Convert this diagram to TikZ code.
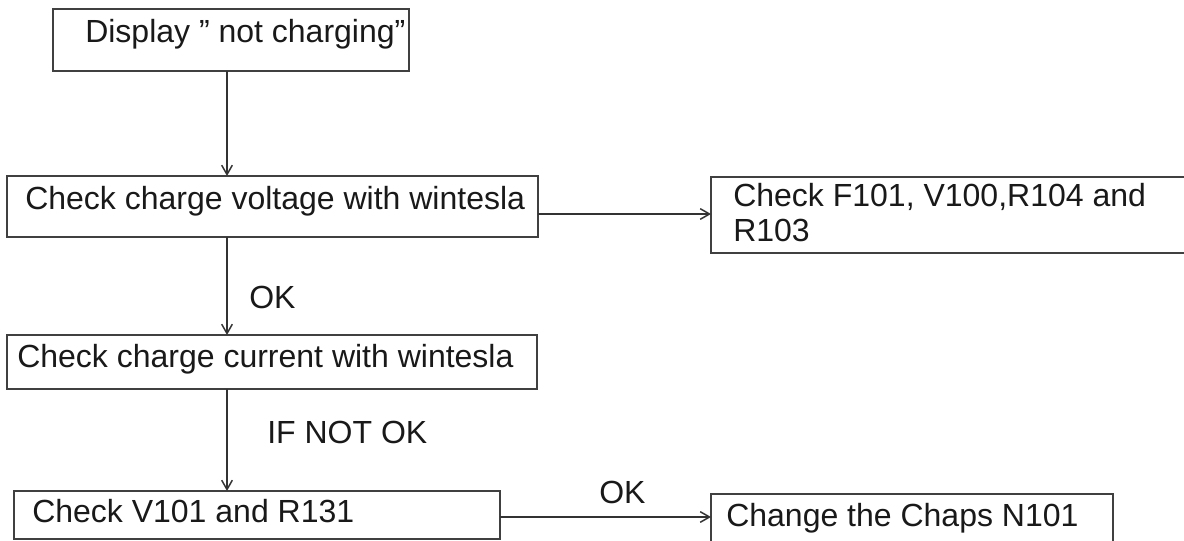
\documentclass[tikz,border=0pt]{standalone}
\usepackage{fontspec}
\setmainfont{Liberation Sans}
\usetikzlibrary{arrows.meta}

\begin{document}
\begin{tikzpicture}[x=0.75pt,y=-0.75pt,
  box/.style={draw=black!75,line width=0.9pt,inner sep=0pt,outer sep=0pt,anchor=north west},
  txt/.style={font=\fontsize{24}{26.25}\selectfont,text=black!90,inner sep=0pt,anchor=base west},
  arr/.style={draw=black!80,line width=0.9pt,-{Straight Barb[length=7pt,width=8pt,line width=1.1pt]}}]
\clip (0,0) rectangle (1184,541);
\fill[white] (0,0) rectangle (1184,541);

% boxes
\node[box,minimum width=356*0.75pt,minimum height=62*0.75pt] (disp) at (53,9) {};
\node[box,minimum width=531*0.75pt,minimum height=61*0.75pt] (volt) at (7,176) {};
\node[box,minimum width=489*0.75pt,minimum height=76*0.75pt] (fuse) at (711,177) {};
\node[box,minimum width=530*0.75pt,minimum height=54*0.75pt] (cur) at (7,335) {};
\node[box,minimum width=486*0.75pt,minimum height=48*0.75pt] (chk) at (14,491) {};
\node[box,minimum width=402*0.75pt,minimum height=66*0.75pt] (chaps) at (711,494) {};

% texts
\node[txt] (tdisp) at (85,43) {Display ” not charging”};
\node[txt] (tvolt) at (25,210) {Check charge voltage with wintesla};
\node[txt,align=left] (tfuse) at (733,242) {Check F101, V100,R104 and\\R103};
\node[txt] (tcur) at (17,368) {Check charge current with wintesla};
\node[txt] (tchk) at (32,522) {Check V101 and R131};
\node[txt] (tchaps) at (726,526) {Change the Chaps N101};
\node[txt] (ok1) at (249,309) {OK};
\node[txt] (notok) at (267,443) {IF NOT OK};
\node[txt] (ok2) at (599,503) {OK};

% connectors
\coordinate (spine) at (227,0);
\coordinate (row1) at (0,214);
\coordinate (row2) at (0,517);
\draw[arr] (disp.south -| spine) -- (volt.north -| spine);
\draw[arr] (volt.south -| spine) -- (cur.north -| spine);
\draw[arr] (cur.south -| spine) -- (chk.north -| spine);
\draw[arr] (volt.east |- row1) -- (fuse.west |- row1);
\draw[arr] (chk.east |- row2) -- (chaps.west |- row2);

\end{tikzpicture}
\end{document}
